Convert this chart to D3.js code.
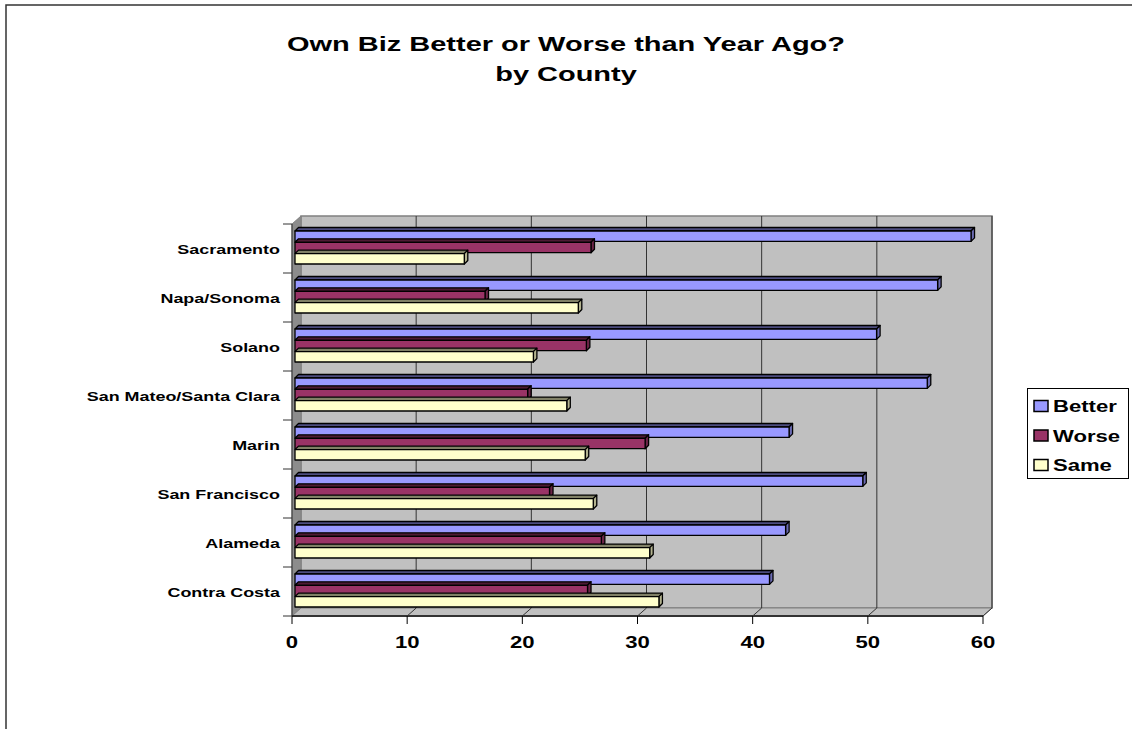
<!DOCTYPE html>
<html>
<head>
<meta charset="utf-8">
<script src="https://cdn.jsdelivr.net/npm/d3@7"></script>
<style>
  body { margin: 0; background: #fff; }
  svg { display: block; }
  text { font-family: "Liberation Sans", Arial, sans-serif; font-weight: bold; fill: #000; }
</style>
</head>
<body>
<div id="chart"></div>
<script>
// chart data
const categories = ["Sacramento", "Napa/Sonoma", "Solano", "San Mateo/Santa Clara",
                    "Marin", "San Francisco", "Alameda", "Contra Costa"];
const seriesNames = ["Better", "Worse", "Same"];
const better = [58.7, 55.8, 50.5, 54.9, 42.9, 49.3, 42.6, 41.2];
const worse  = [25.7, 16.5, 25.3, 20.2, 30.4, 22.1, 26.6, 25.4];
const same   = [14.7, 24.6, 20.7, 23.6, 25.2, 25.9, 30.8, 31.6];
const xTicks = [0, 10, 20, 30, 40, 50, 60];

const seriesValues = { Better: better, Worse: worse, Same: same };
const colors = {
  Better: { front: "#9999ff", top: "#4d4d80", side: "#6b6bb3" },
  Worse:  { front: "#993366", top: "#4d1a33", side: "#6b2447" },
  Same:   { front: "#ffffcc", top: "#808066", side: "#b3b38f" }
};

const W = 1132, H = 729;
const SX = 1.38; // the picture is stretched sideways, text too

const svg = d3.select("#chart").append("svg")
  .attr("width", W).attr("height", H);

// outer frame
svg.append("path")
  .attr("d", "M6,740 L6,5 L1140,5")
  .attr("fill", "none").attr("stroke", "#333").attr("stroke-width", 1.5);

// helper for stretched text
function stext(g, x, y, str, size, anchor) {
  return g.append("text")
    .attr("transform", `translate(${x},${y}) scale(${SX},1)`)
    .attr("text-anchor", anchor || "start")
    .style("font-size", size + "px")
    .text(str);
}

// title
stext(svg, 566, 51, "Own Biz Better or Worse than Year Ago?", 21, "middle");
stext(svg, 566, 81, "by County", 21, "middle");

// scales
const x = d3.scaleLinear().domain([0, 60]).range([292, 983]);
const y = d3.scaleBand().domain(categories).range([224, 616]);
const inner = d3.scaleBand().domain(seriesNames).range([7, 40]).paddingInner(0.08);

const DX = 9, DY = -8;          // wall depth
const BX = 3, BD = 3.5;         // bar offset into depth, bar depth
const yTop = y.range()[0], yBot = y.range()[1];
const x0 = x(0), x1 = x(60);

// back wall
svg.append("rect")
  .attr("x", x0 + DX).attr("y", yTop + DY)
  .attr("width", x1 - x0).attr("height", yBot - yTop)
  .attr("fill", "#c0c0c0").attr("stroke", "#808080").attr("stroke-width", 1.5);

// left wall
svg.append("path")
  .attr("d", `M${x0},${yTop} L${x0 + DX},${yTop + DY} L${x0 + DX},${yBot + DY} L${x0},${yBot} Z`)
  .attr("fill", "#8c8c8c").attr("stroke", "#808080");

// floor
svg.append("path")
  .attr("d", `M${x0},${yBot} L${x0 + DX},${yBot + DY} L${x1 + DX},${yBot + DY} L${x1},${yBot} Z`)
  .attr("fill", "#c0c0c0").attr("stroke", "#808080");

// gridlines on wall + floor
svg.append("g").selectAll("path")
  .data(xTicks.slice(1))
  .join("path")
  .attr("d", d => `M${x(d) + DX},${yTop + DY} L${x(d) + DX},${yBot + DY} L${x(d)},${yBot}`)
  .attr("fill", "none").attr("stroke", "#333").attr("stroke-width", 1);

// bottom axis line and ticks
svg.append("line")
  .attr("x1", x0).attr("x2", x1).attr("y1", yBot).attr("y2", yBot)
  .attr("stroke", "#333").attr("stroke-width", 2);
svg.append("g").selectAll("line")
  .data(xTicks)
  .join("line")
  .attr("x1", d => x(d)).attr("x2", d => x(d))
  .attr("y1", yBot).attr("y2", yBot + 8)
  .attr("stroke", "#000");
const xl = svg.append("g");
xTicks.forEach(t => stext(xl, x(t), 648, t, 16, "middle"));

// left axis line and ticks
svg.append("line")
  .attr("x1", x0).attr("x2", x0).attr("y1", yTop).attr("y2", yBot)
  .attr("stroke", "#333").attr("stroke-width", 1);
const catEdges = categories.map(c => y(c)).concat([yBot]);
svg.append("g").selectAll("line")
  .data(catEdges)
  .join("line")
  .attr("x1", x0 - 9).attr("x2", x0)
  .attr("y1", d => d).attr("y2", d => d)
  .attr("stroke", "#333");
const yl = svg.append("g");
categories.forEach(c => stext(yl, 280, y(c) + y.bandwidth() / 2 + 5, c, 13, "end"));

// bars
const bars = svg.append("g");
categories.forEach((c, i) => {
  seriesNames.forEach(s => {
    const v = seriesValues[s][i];
    const bx0 = x(0) + BX, bx1 = x(v) + BX;
    const by = y(c) + inner(s), bh = inner.bandwidth();
    const col = colors[s];
    const g = bars.append("g")
      .attr("stroke", "#000").attr("stroke-width", 1.3).attr("stroke-linejoin", "round");
    g.append("path")
      .attr("d", `M${bx0},${by} L${bx0 + BD},${by - BD} L${bx1 + BD},${by - BD} L${bx1},${by} Z`)
      .attr("fill", col.top);
    g.append("path")
      .attr("d", `M${bx1},${by} L${bx1 + BD},${by - BD} L${bx1 + BD},${by + bh - BD} L${bx1},${by + bh} Z`)
      .attr("fill", col.side);
    g.append("rect")
      .attr("x", bx0).attr("y", by)
      .attr("width", bx1 - bx0).attr("height", bh)
      .attr("fill", col.front);
  });
});

// legend
const lg = svg.append("g");
lg.append("rect")
  .attr("x", 1027.5).attr("y", 388.5).attr("width", 101).attr("height", 90)
  .attr("fill", "#fff").attr("stroke", "#000").attr("stroke-width", 1);
seriesNames.forEach((s, i) => {
  const cy = 406 + i * 29.5;
  lg.append("rect")
    .attr("x", 1034).attr("y", cy - 5.5).attr("width", 14).attr("height", 11)
    .attr("fill", colors[s].front).attr("stroke", "#000").attr("stroke-width", 1.5);
  stext(lg, 1053, cy + 6, s, 16, "start");
});
</script>
</body>
</html>
